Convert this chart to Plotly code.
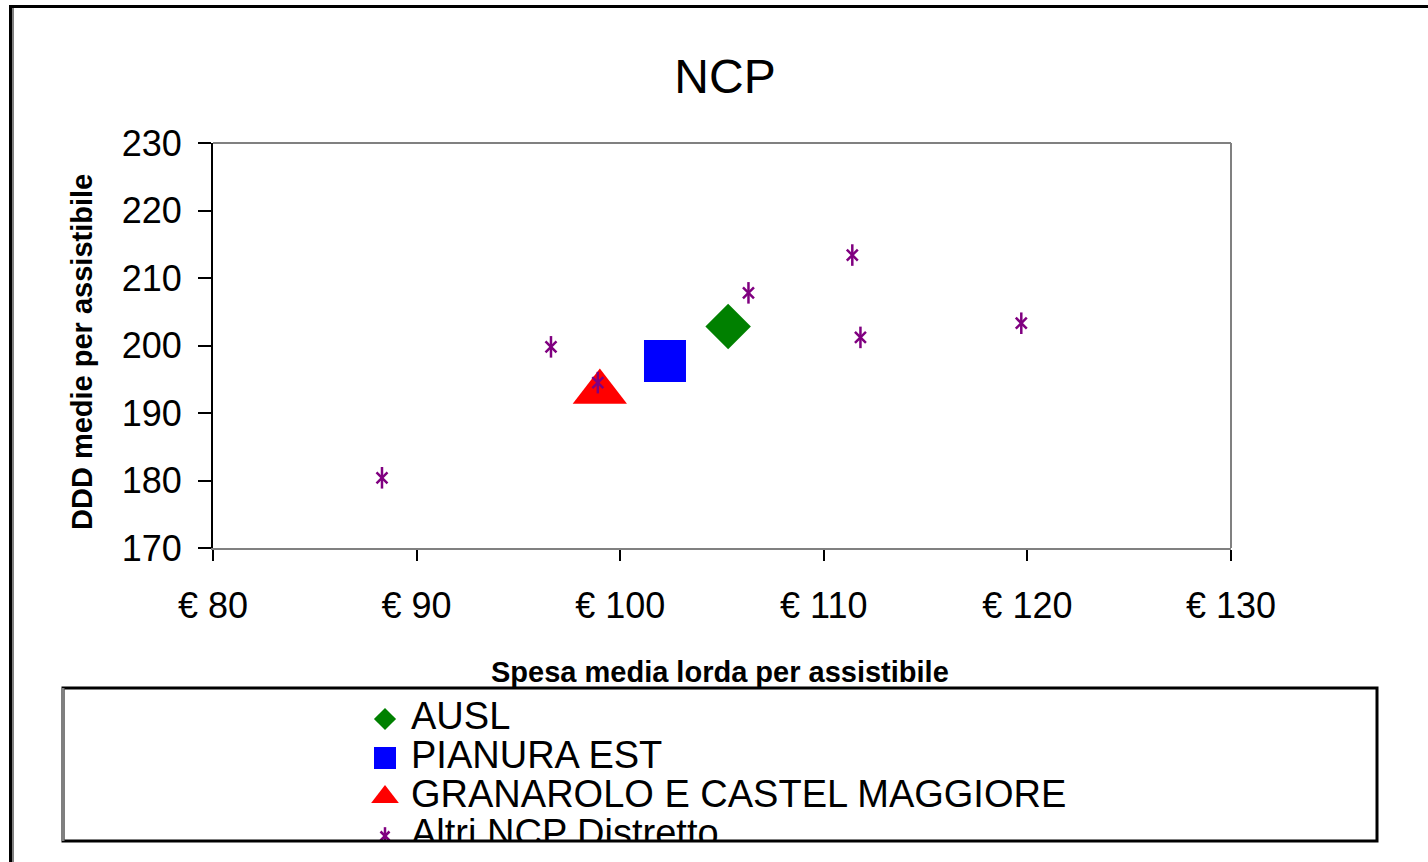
import plotly.graph_objects as go

W, H = 1428, 862

# ---- data ----
series_names = ["AUSL", "PIANURA EST", "GRANAROLO E CASTEL MAGGIORE", "Altri NCP Distretto"]
ausl_x = [105.3]
ausl_y = [202.8]
pianura_x = [102.2]
pianura_y = [197.7]
granarolo_x = [99.0]
granarolo_y = [193.1]
altri_x = [88.3, 96.6, 98.9, 106.3, 111.4, 111.8, 119.7]
altri_y = [180.4, 199.8, 194.5, 207.8, 213.4, 201.2, 203.3]
x_ticks = [80, 90, 100, 110, 120, 130]
x_tick_labels = ["€ 80", "€ 90", "€ 100", "€ 110", "€ 120", "€ 130"]
y_ticks = [170, 180, 190, 200, 210, 220, 230]

FONT = "Liberation Sans, Arial, sans-serif"

def px_x(p):
    return p / W

def px_y(p):
    return 1 - p / H

styles = [
    dict(symbol="diamond", color="#008000", size=35, lsize=17),
    dict(symbol="square", color="#0000FF", size=42, lsize=22),
    dict(symbol="triangle-up", color="#FF0000", size=47, lsize=24),
    dict(symbol="altri", color="#800080", size=11, lsize=9),
]
xs = [ausl_x, pianura_x, granarolo_x, altri_x]
ys = [ausl_y, pianura_y, granarolo_y, altri_y]


def marker_parts(st, size):
    """Return list of marker dicts to draw one legend/plot symbol."""
    if st["symbol"] == "altri":
        return [
            dict(symbol="x-thin-open", size=size, line=dict(color=st["color"], width=2.5),
                 color=st["color"]),
            dict(symbol="line-ns-open", size=size * 1.4, line=dict(color=st["color"], width=2.5),
                 color=st["color"]),
        ]
    return [dict(symbol=st["symbol"], size=size, color=st["color"], line=dict(width=0))]


fig = go.Figure()
for i in range(len(series_names)):
    st = styles[i]
    for m in marker_parts(st, st["size"]):
        fig.add_trace(go.Scatter(x=xs[i], y=ys[i], mode="markers", name=series_names[i],
                                 marker=m, showlegend=False, xaxis="x", yaxis="y"))

# ---- custom legend drawn in its own (hidden) axes so the last row is clipped ----
row0, row_gap = 31, 39
marker_x, text_x = 322, 348
for i, name in enumerate(series_names):
    st = styles[i]
    ry = row0 + row_gap * i
    for m in marker_parts(st, st["lsize"]):
        fig.add_trace(go.Scatter(x=[marker_x], y=[ry], mode="markers", marker=m,
                                 showlegend=False, hoverinfo="skip", xaxis="x2", yaxis="y2",
                                 cliponaxis=True))
    fig.add_trace(go.Scatter(x=[text_x], y=[ry], mode="text", text=[name],
                             textposition="middle right",
                             textfont=dict(family=FONT, size=38, color="black"),
                             showlegend=False, hoverinfo="skip", xaxis="x2", yaxis="y2",
                             cliponaxis=True))

plot_l, plot_r, plot_t, plot_b = 213, 1231, 143, 548
leg_l, leg_r, leg_t, leg_b = 63, 1377, 688, 841

fig.update_layout(
    width=W, height=H, autosize=False,
    margin=dict(l=0, r=0, t=0, b=0, pad=0, autoexpand=False),
    paper_bgcolor="white", plot_bgcolor="white",
    font=dict(family=FONT, color="black"),
    title=dict(text="NCP", x=px_x(725), y=px_y(76), xref="paper", yref="paper",
               xanchor="center", yanchor="middle",
               font=dict(family="Liberation Sans Narrow, Liberation Sans, Arial", size=48,
                         color="black")),
    xaxis=dict(domain=[px_x(plot_l), px_x(plot_r)], range=[80, 130],
               tickvals=x_ticks, ticktext=x_tick_labels,
               showgrid=False, zeroline=False,
               showline=True, linecolor="#808080", linewidth=2,
               ticks="outside", ticklen=11, tickwidth=2, tickcolor="black",
               ticklabelstandoff=14, automargin=False,
               tickfont=dict(family=FONT, size=36, color="black"),
               anchor="y", fixedrange=True),
    yaxis=dict(domain=[px_y(plot_b), px_y(plot_t)], range=[170, 230],
               tickvals=y_ticks, showgrid=False, zeroline=False,
               showline=True, linecolor="black", linewidth=2,
               ticks="outside", ticklen=13, tickwidth=2, tickcolor="black",
               ticklabelstandoff=9, automargin=False,
               tickfont=dict(family=FONT, size=36, color="black"),
               anchor="x", fixedrange=True),
    xaxis2=dict(domain=[px_x(leg_l), px_x(leg_r)], range=[0, leg_r - leg_l],
                visible=False, anchor="y2", fixedrange=True, automargin=False),
    yaxis2=dict(domain=[px_y(leg_b), px_y(leg_t)], range=[leg_b - leg_t, 0],
                visible=False, anchor="x2", fixedrange=True, automargin=False),
    annotations=[
        dict(text="<b>Spesa media lorda per assistibile</b>", x=px_x(720), y=px_y(672),
             xref="paper", yref="paper", xanchor="center", yanchor="middle",
             showarrow=False, font=dict(family=FONT, size=29, color="black")),
        dict(text="<b>DDD medie per assistibile</b>", x=px_x(82), y=px_y(352),
             xref="paper", yref="paper", xanchor="center", yanchor="middle",
             textangle=-90, showarrow=False,
             font=dict(family=FONT, size=29, color="black")),
    ],
    shapes=[
        dict(type="line", xref="paper", yref="paper", x0=px_x(plot_l), x1=px_x(plot_r),
             y0=px_y(plot_t), y1=px_y(plot_t), line=dict(color="#808080", width=2)),
        dict(type="line", xref="paper", yref="paper", x0=px_x(plot_r), x1=px_x(plot_r),
             y0=px_y(plot_t), y1=px_y(plot_b), line=dict(color="#808080", width=2)),
        dict(type="rect", xref="paper", yref="paper", x0=px_x(leg_l), x1=px_x(leg_r),
             y0=px_y(leg_b), y1=px_y(leg_t), line=dict(color="black", width=3)),
        dict(type="line", xref="paper", yref="paper", x0=px_x(leg_l), x1=px_x(leg_l),
             y0=px_y(leg_b), y1=px_y(leg_t), line=dict(color="#808080", width=3)),
        dict(type="line", xref="paper", yref="paper", x0=px_x(9), x1=1,
             y0=px_y(6.5), y1=px_y(6.5), line=dict(color="black", width=3)),
        dict(type="line", xref="paper", yref="paper", x0=px_x(10.5), x1=px_x(10.5),
             y0=px_y(5), y1=0, line=dict(color="black", width=3)),
        dict(type="line", xref="paper", yref="paper", x0=px_x(13), x1=px_x(13),
             y0=px_y(8), y1=0, line=dict(color="#808080", width=2)),
    ],
)

fig.write_html("out.html", config={"displayModeBar": False},
               post_script="document.body.style.margin='0px';document.body.style.overflow='hidden';")
